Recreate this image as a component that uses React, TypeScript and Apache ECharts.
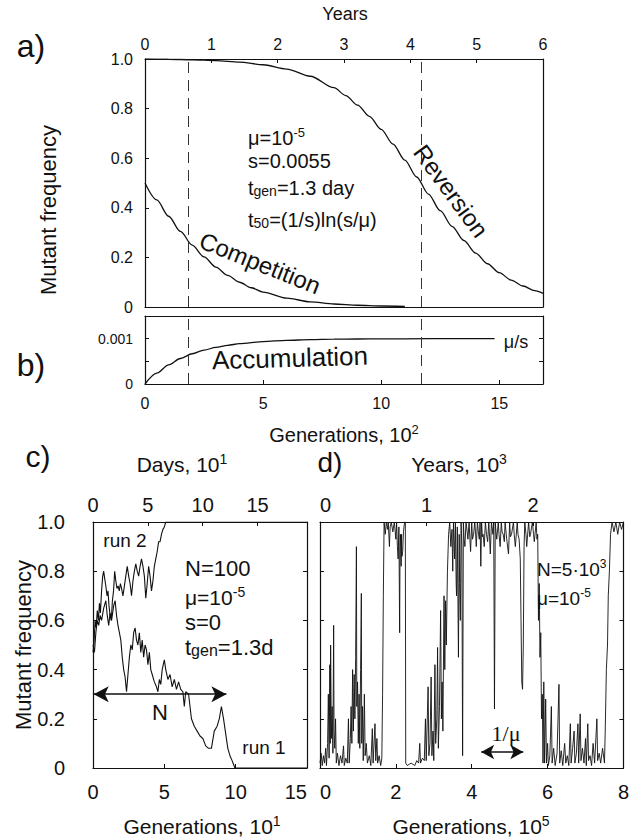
import React, { useEffect, useRef } from 'react';
import * as echarts from 'echarts';

const FONT = '"Liberation Sans", Arial, Helvetica, sans-serif';
const SERIF = '"Liberation Serif", "Times New Roman", serif';
const INK = '#111';

// ---------- Panels a & b (generations, 10^2) ----------
const reversionGen = [0, 1, 2, 3, 4, 5, 6, 7, 8, 8.5, 9, 9.5, 10, 10.5, 11, 11.5, 12, 12.5, 13, 13.5, 14, 14.5, 15, 15.5, 16, 16.5, 16.85];
const reversionFreq = [1.0, 0.999, 0.997, 0.9934, 0.9873, 0.9769, 0.9594, 0.9305, 0.8843, 0.8526, 0.8143, 0.7687, 0.716, 0.6567, 0.5921, 0.5242, 0.4555, 0.3884, 0.3254, 0.2681, 0.2176, 0.1744, 0.1383, 0.1086, 0.0847, 0.0657, 0.0548];
const competitionGen = [0, 0.5, 1, 1.5, 2, 2.5, 3, 3.5, 4, 4.5, 5, 6, 7, 8, 9, 10, 11];
const competitionFreq = [0.5, 0.4317, 0.3659, 0.3047, 0.2497, 0.2018, 0.1611, 0.1273, 0.0998, 0.0776, 0.0601, 0.0356, 0.0208, 0.0121, 0.007, 0.0041, 0.0024];
const accumulationGen = [0, 0.5, 1, 1.5, 2, 2.5, 3, 3.5, 4, 5, 6, 7, 8, 9, 10, 12, 14.8];
const accumulationFreq = [0, 0.00024, 0.000423, 0.000562, 0.000667, 0.000747, 0.000808, 0.000854, 0.000889, 0.000936, 0.000963, 0.000979, 0.000988, 0.000993, 0.000996, 0.000999, 0.001];
const dashedGen = [1.82, 11.69];
const genMaxAB = 16.85;
const yearsMaxA = 6;

// ---------- Panel c (generations, 10^1) ----------
const run2: [number, number][] = [
  [0, 0.47], [0.08, 0.52], [0.15, 0.6], [0.22, 0.57], [0.3, 0.64], [0.38, 0.6], [0.45, 0.67], [0.52, 0.63], [0.6, 0.72], [0.68, 0.78], [0.75, 0.8],
  [0.82, 0.77], [0.9, 0.74], [0.98, 0.7], [1.05, 0.72], [1.12, 0.66], [1.2, 0.62], [1.28, 0.6], [1.36, 0.68], [1.44, 0.72], [1.52, 0.8], [1.6, 0.76],
  [1.68, 0.73], [1.76, 0.74], [1.84, 0.72], [1.92, 0.75], [2.0, 0.73], [2.1, 0.7], [2.2, 0.74], [2.3, 0.78], [2.4, 0.82], [2.5, 0.78], [2.6, 0.75],
  [2.7, 0.7], [2.8, 0.76], [2.9, 0.8], [3.0, 0.83], [3.1, 0.8], [3.2, 0.78], [3.3, 0.82], [3.4, 0.85], [3.5, 0.82], [3.6, 0.78], [3.7, 0.69],
  [3.8, 0.75], [3.9, 0.82], [4.0, 0.78], [4.1, 0.72], [4.2, 0.76], [4.3, 0.82], [4.4, 0.85], [4.5, 0.88], [4.6, 0.92], [4.7, 0.92], [4.8, 0.95],
  [4.9, 0.97], [5.0, 0.98], [5.1, 1.0], [15, 1.0],
];
const run1: [number, number][] = [
  [0, 0.5], [0.1, 0.47], [0.2, 0.55], [0.3, 0.6], [0.4, 0.58], [0.5, 0.62], [0.6, 0.6], [0.75, 0.65], [0.9, 0.68], [1.0, 0.62], [1.1, 0.58],
  [1.2, 0.63], [1.3, 0.6], [1.45, 0.66], [1.55, 0.68], [1.65, 0.62], [1.75, 0.58], [1.85, 0.55], [1.95, 0.52], [2.05, 0.45], [2.15, 0.4],
  [2.25, 0.37], [2.35, 0.31], [2.45, 0.38], [2.55, 0.45], [2.65, 0.5], [2.75, 0.48], [2.85, 0.55], [2.95, 0.57], [3.05, 0.52], [3.15, 0.5],
  [3.25, 0.55], [3.35, 0.47], [3.45, 0.52], [3.55, 0.45], [3.65, 0.5], [3.75, 0.48], [3.85, 0.42], [3.95, 0.47], [4.05, 0.4], [4.15, 0.38],
  [4.3, 0.35], [4.45, 0.33], [4.55, 0.31], [4.65, 0.36], [4.75, 0.34], [4.85, 0.4], [5.0, 0.44], [5.1, 0.4], [5.25, 0.36], [5.4, 0.38],
  [5.55, 0.33], [5.7, 0.36], [5.85, 0.32], [6.0, 0.35], [6.15, 0.32], [6.3, 0.31], [6.4, 0.25], [6.5, 0.31], [6.7, 0.3], [6.9, 0.2],
  [7.1, 0.17], [7.3, 0.15], [7.5, 0.13], [7.7, 0.12], [7.9, 0.09], [8.1, 0.08], [8.3, 0.08], [8.5, 0.15], [8.7, 0.17], [8.85, 0.2],
  [9.0, 0.25], [9.15, 0.2], [9.3, 0.14], [9.45, 0.08], [9.6, 0.05], [9.75, 0.03], [9.95, 0.0], [15, 0],
];
const nArrow = [0.05, 9.35];
const nArrowLevel = 0.3;

// ---------- Panel d (generations, 10^5) ----------
const dRun: [number, number][] = [
  [0, 0.02], [0.03, 0.06], [0.06, 0.01], [0.09, 0.05], [0.12, 0.02], [0.15, 0.08], [0.17, 0.01], [0.2, 0.1], [0.22, 0.3], [0.24, 0.04],
  [0.26, 0.42], [0.27, 0.1], [0.28, 0.5], [0.3, 0.12], [0.32, 0.25], [0.34, 0.06], [0.36, 0.58], [0.37, 0.15], [0.39, 0.08], [0.41, 0.2],
  [0.43, 0.02], [0.46, 0.06], [0.5, 0.01], [0.54, 0.05], [0.58, 0.02], [0.62, 0.09], [0.64, 0.01], [0.68, 0.04], [0.72, 0.02], [0.75, 0.2],
  [0.77, 0.02], [0.8, 0.12], [0.82, 0.25], [0.84, 0.1], [0.86, 0.4], [0.88, 0.15], [0.9, 0.38], [0.92, 0.2], [0.94, 0.45], [0.96, 0.9],
  [0.97, 0.25], [0.99, 0.35], [1.01, 0.1], [1.03, 0.3], [1.05, 0.08], [1.07, 0.4], [1.09, 0.71], [1.1, 0.1], [1.12, 0.25], [1.14, 0.03],
  [1.17, 0.3], [1.19, 0.05], [1.22, 0.1], [1.25, 0.02], [1.3, 0.05], [1.34, 0.01], [1.38, 0.16], [1.4, 0.02], [1.45, 0.18], [1.47, 0.03],
  [1.5, 0.12], [1.52, 0.02], [1.56, 0.05], [1.6, 0.01], [1.63, 0.04], [1.65, 0.3], [1.67, 0.7], [1.69, 1.0],
  [1.72, 0.95], [1.75, 1.0], [1.78, 0.97], [1.8, 1.0], [1.83, 0.9], [1.85, 0.98], [1.88, 1.0], [1.92, 0.96], [1.96, 1.0], [2.0, 0.93],
  [2.02, 1.0], [2.04, 0.9], [2.06, 0.85], [2.08, 0.98], [2.1, 0.55], [2.11, 0.9], [2.12, 0.95], [2.14, 0.82], [2.15, 0.95], [2.16, 0.86],
  [2.18, 0.88], [2.2, 0.96], [2.23, 1.0], [2.25, 1.0], [2.26, 0.02],
  [2.3, 0.01], [2.4, 0.02], [2.5, 0.01], [2.55, 0.03], [2.6, 0.02], [2.63, 0.1], [2.65, 0.02], [2.7, 0.04], [2.75, 0.03], [2.78, 0.2],
  [2.8, 0.03], [2.85, 0.33], [2.87, 0.05], [2.9, 0.1], [2.93, 0.37], [2.95, 0.05], [2.98, 0.15], [3.0, 0.03], [3.03, 0.42], [3.05, 0.1],
  [3.08, 0.2], [3.1, 0.49], [3.12, 0.08], [3.15, 0.25], [3.18, 0.64], [3.2, 0.2], [3.22, 0.35], [3.24, 0.15], [3.27, 0.7], [3.29, 0.4],
  [3.31, 0.68], [3.33, 0.5], [3.36, 0.8], [3.39, 0.95], [3.42, 1.0],
  [3.45, 0.9], [3.48, 0.97], [3.5, 0.8], [3.52, 1.0], [3.55, 0.85], [3.57, 1.0], [3.59, 0.75], [3.6, 0.7], [3.62, 0.98], [3.63, 0.8],
  [3.65, 0.45], [3.67, 0.95], [3.68, 0.75], [3.7, 0.6], [3.72, 1.0], [3.74, 0.9], [3.76, 0.05], [3.78, 1.0], [3.8, 0.93], [3.82, 0.9],
  [3.85, 1.0], [3.88, 0.96], [3.9, 0.93], [3.93, 1.0], [3.97, 0.88], [4.0, 1.0], [4.02, 0.93], [4.05, 0.95], [4.08, 1.0], [4.1, 0.96],
  [4.12, 0.9], [4.15, 1.0], [4.18, 0.95], [4.2, 0.93], [4.22, 1.0], [4.24, 0.82], [4.26, 1.0], [4.28, 0.94], [4.3, 0.95], [4.33, 0.9],
  [4.36, 1.0], [4.39, 0.95], [4.42, 0.92], [4.45, 1.0], [4.47, 0.94], [4.49, 0.87], [4.52, 1.0], [4.56, 0.95], [4.58, 1.0], [4.6, 0.24],
  [4.62, 1.0], [4.64, 0.96], [4.66, 0.93], [4.7, 1.0], [4.72, 0.95], [4.75, 0.9], [4.78, 1.0], [4.8, 0.96], [4.83, 0.95], [4.86, 0.92],
  [4.88, 1.0], [4.91, 0.95], [4.93, 0.92], [4.97, 0.87], [5.0, 1.0], [5.02, 0.94], [5.05, 0.95], [5.1, 1.0], [5.12, 0.95], [5.15, 0.9],
  [5.2, 1.0], [5.22, 0.95], [5.25, 0.93], [5.28, 0.85], [5.3, 0.6], [5.32, 0.35], [5.34, 0.32], [5.36, 0.5], [5.38, 0.9], [5.4, 1.0],
  [5.43, 0.95], [5.45, 0.9], [5.5, 1.0], [5.53, 0.94], [5.55, 0.95], [5.6, 1.0], [5.63, 0.95], [5.65, 0.92], [5.7, 1.0], [5.72, 0.93],
  [5.74, 0.95], [5.76, 0.6], [5.78, 0.75], [5.8, 0.45], [5.82, 0.55], [5.84, 0.2], [5.86, 0.3], [5.88, 0.02],
  [5.9, 0.35], [5.92, 0.02], [5.95, 0.28], [5.97, 0.02], [6.0, 0.1], [6.02, 0.01], [6.06, 0.05], [6.1, 0.25], [6.12, 0.02], [6.16, 0.08],
  [6.2, 0.01], [6.25, 0.06], [6.3, 0.34], [6.32, 0.02], [6.36, 0.07], [6.4, 0.01], [6.45, 0.1], [6.48, 0.02], [6.52, 0.05], [6.56, 0.01],
  [6.6, 0.18], [6.62, 0.02], [6.66, 0.08], [6.7, 0.15], [6.72, 0.02], [6.76, 0.06], [6.8, 0.18], [6.82, 0.02], [6.86, 0.22], [6.88, 0.03],
  [6.92, 0.08], [6.96, 0.02], [7.0, 0.12], [7.02, 0.01], [7.06, 0.18], [7.08, 0.03], [7.12, 0.05], [7.16, 0.01], [7.2, 0.1], [7.24, 0.02],
  [7.3, 0.2], [7.32, 0.03], [7.36, 0.06], [7.4, 0.02], [7.45, 0.08], [7.5, 0.02], [7.52, 0.15], [7.55, 0.4], [7.58, 0.5], [7.6, 0.7],
  [7.63, 0.8], [7.66, 0.95], [7.7, 1.0], [7.75, 0.96], [7.8, 1.0], [7.85, 0.95], [7.9, 1.0], [7.95, 0.97], [8.0, 1.0],
];
const muArrow = [4.25, 5.36];
const muArrowLevel = 0.065;
const yearsMaxD = 2.847;
const daysMaxC = 19.5;

const zip = (xs: number[], ys: number[]) => xs.map((x, i) => [x, ys[i]]);

const axisLine = { show: true, onZero: false, lineStyle: { color: INK, width: 1.2 } };
const ticksIn = { show: true, inside: true, length: 4, lineStyle: { color: INK, width: 1 } };
const base = (o: any) => ({
  type: 'value', axisLine, splitLine: { show: false }, axisTick: { show: false }, axisLabel: { show: false }, ...o,
});
const lbl = (size: number, margin: number, formatter: (v: number) => string, extra: any = {}) => ({
  show: true, color: INK, fontSize: size, fontFamily: FONT, margin, formatter, ...extra,
});
const fmtMult = (step: number, dec: number) => (v: number) =>
  Math.abs(v / step - Math.round(v / step)) < 1e-6 ? (Math.abs(v) < 1e-12 ? '0' : v.toFixed(dec)) : '';

const richStyles = (size: number) => ({
  n: { fontSize: size, fontFamily: FONT, lineHeight: size + 2, verticalAlign: 'bottom', fill: INK },
  sup: { fontSize: Math.round(size * 0.65), fontFamily: FONT, lineHeight: 8, verticalAlign: 'top', fill: INK },
  sub: { fontSize: Math.round(size * 0.72), fontFamily: FONT, lineHeight: 4, verticalAlign: 'bottom', fill: INK },
});

const txt = (x: number, y: number, text: string, size: number, opt: any = {}) => ({
  type: 'text', x, y, rotation: opt.rotation || 0, silent: true,
  style: {
    text, fill: INK, font: `${size}px ${opt.family || FONT}`,
    textAlign: opt.align || 'center', textVerticalAlign: 'middle',
    rich: opt.rich ? richStyles(size) : undefined,
  },
});

export default function App() {
  const ref = useRef<HTMLDivElement>(null);
  useEffect(() => {
    if (!ref.current) return;
    const chart = echarts.init(ref.current, undefined, { renderer: 'svg' });
    const dashed = {
      silent: true, symbol: ['none', 'none'], label: { show: false },
      lineStyle: { color: '#333', width: 1, type: [11, 7] },
      data: dashedGen.map((g) => ({ xAxis: g })),
    };
    const arrowLine = (ends: number[], level: number, size: number[]) => ({
      silent: true, symbol: ['arrow', 'arrow'], symbolSize: size, label: { show: false },
      lineStyle: { color: INK, width: 1.6, type: 'solid' },
      data: [[{ coord: [ends[0], level] }, { coord: [ends[1], level] }]],
    });
    const lineSeries = (xi: number, data: any, width: number, extra: any = {}) => ({
      type: 'line', xAxisIndex: xi, yAxisIndex: xi, data, symbol: 'none', showSymbol: false,
      lineStyle: { color: INK, width }, itemStyle: { color: INK }, silent: true, ...extra,
    });

    const option: any = {
      animation: false,
      backgroundColor: '#fff',
      textStyle: { fontFamily: FONT },
      grid: [
        { left: 145, top: 59, width: 398, height: 248 },
        { left: 145, top: 316, width: 398, height: 68 },
        { left: 93, top: 522, width: 214, height: 246 },
        { left: 320, top: 522, width: 306, height: 246 },
      ],
      xAxis: [
        base({ gridIndex: 0, position: 'bottom', min: 0, max: genMaxAB }),
        base({ gridIndex: 0, position: 'top', min: 0, max: yearsMaxA, interval: 1, axisTick: ticksIn, axisLabel: lbl(16, 7, fmtMult(1, 0)) }),
        base({ gridIndex: 1, position: 'bottom', min: 0, max: genMaxAB, interval: 5, axisTick: ticksIn, axisLabel: lbl(16, 11, fmtMult(5, 0)) }),
        base({ gridIndex: 1, position: 'top', min: 0, max: genMaxAB }),
        base({ gridIndex: 2, position: 'bottom', min: 0, max: 15, interval: 5, axisTick: ticksIn, axisLabel: lbl(20, 14, fmtMult(5, 0), { alignMaxLabel: 'right' }) }),
        base({ gridIndex: 2, position: 'top', min: 0, max: daysMaxC, interval: 5, axisTick: ticksIn, axisLabel: lbl(20, 7, fmtMult(5, 0)) }),
        base({ gridIndex: 3, position: 'bottom', min: 0, max: 8, interval: 2, axisTick: ticksIn, axisLabel: lbl(20, 14, fmtMult(2, 0), { alignMinLabel: 'left' }) }),
        base({ gridIndex: 3, position: 'top', min: 0, max: yearsMaxD, interval: 1, axisTick: ticksIn, axisLabel: lbl(20, 7, fmtMult(1, 0), { alignMinLabel: 'left' }) }),
      ],
      yAxis: [
        base({ gridIndex: 0, position: 'left', min: 0, max: 1, interval: 0.2, axisTick: ticksIn, axisLabel: lbl(16, 12, fmtMult(0.2, 1)) }),
        base({ gridIndex: 0, position: 'right', min: 0, max: 1 }),
        base({ gridIndex: 1, position: 'left', min: 0, max: 0.0015, interval: 0.0005, axisTick: ticksIn,
          axisLabel: lbl(14, 12, (v: number) => (Math.abs(v) < 1e-12 ? '0' : Math.abs(v - 0.001) < 1e-9 ? '0.001' : '')) }),
        base({ gridIndex: 1, position: 'right', min: 0, max: 0.0015, interval: 0.0005, axisTick: ticksIn }),
        base({ gridIndex: 2, position: 'left', min: 0, max: 1, interval: 0.2, axisTick: ticksIn, axisLabel: lbl(20, 28, fmtMult(0.2, 1)) }),
        base({ gridIndex: 2, position: 'right', min: 0, max: 1, interval: 0.2, axisTick: ticksIn }),
        base({ gridIndex: 3, position: 'left', min: 0, max: 1, interval: 0.2, axisTick: ticksIn }),
        base({ gridIndex: 3, position: 'right', min: 0, max: 1, interval: 0.2, axisTick: ticksIn }),
      ],
      series: [
        lineSeries(0, zip(reversionGen, reversionFreq), 1.3, { smooth: 0.3, smoothMonotone: 'x', markLine: dashed }),
        lineSeries(0, zip(competitionGen, competitionFreq), 1.3, { smooth: 0.3, smoothMonotone: 'x' }),
        { ...lineSeries(2, zip(accumulationGen, accumulationFreq), 1.3, { smooth: 0.3, smoothMonotone: 'x', markLine: dashed }), xAxisIndex: 2, yAxisIndex: 2 },
        { ...lineSeries(4, run2, 1.1), xAxisIndex: 4, yAxisIndex: 4 },
        { ...lineSeries(4, run1, 1.1, { markLine: arrowLine(nArrow, nArrowLevel, [12, 15]) }), xAxisIndex: 4, yAxisIndex: 4 },
        { ...lineSeries(6, dRun, 0.9, { markLine: arrowLine(muArrow, muArrowLevel, [11, 13]) }), xAxisIndex: 6, yAxisIndex: 6 },
      ],
      graphic: [
        txt(345, 14, 'Years', 18),
        txt(31, 46, 'a)', 32),
        txt(31, 365, 'b)', 32),
        txt(48, 210, 'Mutant frequency', 22, { rotation: Math.PI / 2 }),
        txt(248, 137, '{n|μ=10}{sup|-5}', 20, { align: 'left', rich: true }),
        txt(248, 161, 's=0.0055', 20, { align: 'left' }),
        txt(248, 187, '{n|t}{sub|gen}{n|=1.3 day}', 20, { align: 'left', rich: true }),
        txt(248, 219, '{n|t}{sub|50}{n|=(1/s)ln(s/μ)}', 20, { align: 'left', rich: true }),
        txt(260, 263, 'Competition', 24, { rotation: -0.38 }),
        txt(451, 191, 'Reversion', 24, { rotation: -0.94 }),
        txt(290, 358, 'Accumulation', 26, { rotation: 0.03 }),
        txt(516, 342, 'μ/s', 18),
        txt(344, 434, '{n|Generations, 10}{sup|2}', 20, { rich: true }),
        txt(38, 456, 'c)', 30),
        txt(182, 463, '{n|Days, 10}{sup|1}', 21, { rich: true }),
        txt(23, 645, 'Mutant frequency', 22, { rotation: Math.PI / 2 }),
        txt(185, 568, 'N=100', 22, { align: 'left' }),
        txt(185, 596, '{n|μ=10}{sup|-5}', 21, { align: 'left', rich: true }),
        txt(185, 622, 's=0', 22, { align: 'left' }),
        txt(185, 646, '{n|t}{sub|gen}{n|=1.3d}', 22, { align: 'left', rich: true }),
        txt(125, 540, 'run 2', 19),
        txt(264, 747, 'run 1', 19),
        txt(160, 712, 'N', 22),
        txt(202, 825, '{n|Generations, 10}{sup|1}', 21, { rich: true }),
        txt(330, 462, 'd)', 28),
        txt(459, 463, '{n|Years, 10}{sup|3}', 21, { rich: true }),
        txt(537, 568, '{n|N=5·10}{sup|3}', 19, { align: 'left', rich: true }),
        txt(537, 597, '{n|μ=10}{sup|-5}', 19, { align: 'left', rich: true }),
        txt(506, 733, '1/μ', 22, { family: SERIF }),
        txt(471, 825, '{n|Generations, 10}{sup|5}', 21, { rich: true }),
      ],
    };
    chart.setOption(option);
    return () => chart.dispose();
  }, []);
  return (
    <div
      ref={ref}
      style={{ position: 'absolute', left: 0, top: 0, width: 632, height: 839, background: '#fff' }}
    />
  );
}
